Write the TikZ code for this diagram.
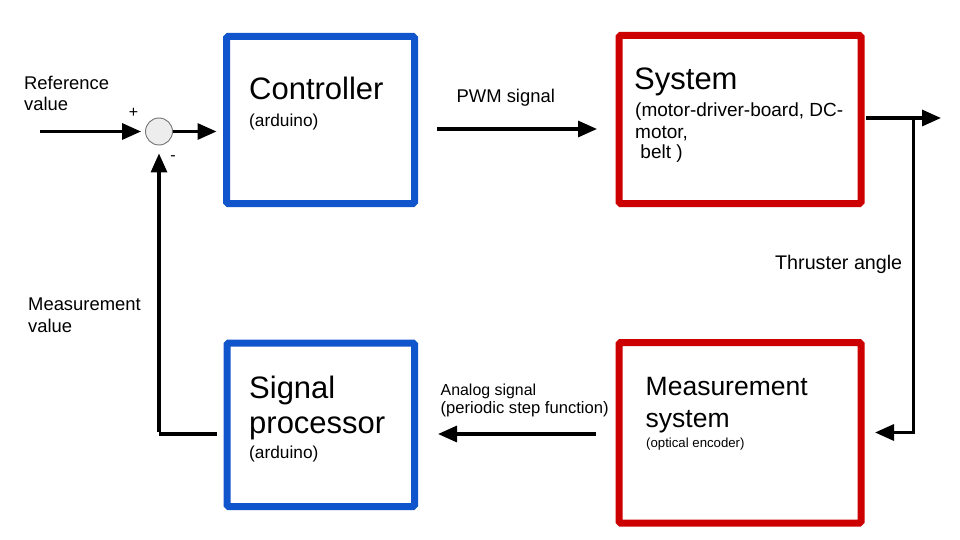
\documentclass[tikz,border=0pt]{standalone}
\usepackage{fontspec}
\setmainfont{Liberation Sans}
\usetikzlibrary{arrows.meta}
\definecolor{gblue}{HTML}{1155CC}
\definecolor{gred}{HTML}{CC0000}
\tikzset{
  blk/.style={draw, line width=7pt, rounded corners=1.5pt, fill=white},
  bluebox/.style={blk, draw=gblue},
  redbox/.style={blk, draw=gred},
  conn/.style={line width=3.2pt, -{Triangle[length=19pt,width=16pt]}},
  plain/.style={line width=3.2pt},
  lbl/.style={anchor=base west, inner sep=0pt, font=\fontsize{18.4}{21}\selectfont},
  big/.style={anchor=base west, inner sep=0pt, font=\fontsize{31}{34}\selectfont},
  mid/.style={anchor=base west, inner sep=0pt, font=\fontsize{26.5}{30}\selectfont},
  small/.style={anchor=base west, inner sep=0pt, font=\fontsize{19}{22}\selectfont},
  sub/.style={anchor=base west, inner sep=0pt, font=\fontsize{17.3}{20}\selectfont},
}
\begin{document}
\begin{tikzpicture}[x=1pt,y=-1pt]
\useasboundingbox (0,0) rectangle (960,540);
% boxes
\draw[bluebox] (226.5,36.5) rectangle (414.5,203.5);
\node[inner sep=0pt, minimum width=188pt, minimum height=167pt] (ctrl) at (320.5,120) {};
\draw[redbox] (619,35.5) rectangle (861,203.5);
\node[inner sep=0pt, minimum width=242pt, minimum height=168pt] (sys) at (740,119.5) {};
\draw[redbox] (619,342.5) rectangle (861,523);
\node[inner sep=0pt, minimum width=242pt, minimum height=180pt] (meas) at (740,432.75) {};
\draw[bluebox] (227,343) rectangle (414.5,506.5);
\node[inner sep=0pt, minimum width=187pt, minimum height=163pt] (sig) at (320.75,424.75) {};
% sum junction
\node[circle, draw=black!55, line width=0.9pt, fill=black!7, minimum size=27pt, inner sep=0pt] (sum) at (159,131.5) {};
% coordinates
\coordinate (in) at (40,131.5);
\coordinate (ctrlin) at (216.5,131.5);
\coordinate (pwmA) at (437,129);
\coordinate (pwmB) at (597,129);
\coordinate (sysout) at (866,118);
\coordinate (outtip) at (941,118);
\coordinate (br) at (913.5,118);
\coordinate (brdown) at (913.5,432.5);
\coordinate (measin) at (875,432.5);
\coordinate (anA) at (596,434);
\coordinate (anB) at (438,434);
\coordinate (sigout) at (217,434);
\coordinate (fbcorner) at (159,434);
% text
\node[lbl] (reft1) at (24,89.5) {Reference};
\node[lbl] (reft2) at (24,111) {value};
\node[inner sep=0pt, font=\fontsize{16}{18}\selectfont] (plus) at (133.5,113) {+};
\node[inner sep=0pt, font=\fontsize{16}{18}\selectfont] (minus) at (173,158) {-};
\node[big] (ctrlt) at (249,99.5) {Controller};
\node[sub] (ctrls) at (249,127) {(arduino)};
\node[lbl] (pwmt) at (456.5,103) {PWM signal};
\node[big] (syst) at (634,90) {System};
\node[small] (sys1) at (635,117) {(motor-driver-board, DC-};
\node[small] (sys2) at (635,138.5) {motor,};
\node[small] (sys3) at (635,159) {\ belt )};
\node[inner sep=0pt, anchor=base west, font=\fontsize{19.7}{22}\selectfont] (thr) at (775,269) {Thruster angle};
\node[lbl] (mv1) at (28,310) {Measurement};
\node[lbl] (mv2) at (28,332.5) {value};
\node[inner sep=0pt, anchor=base west, font=\fontsize{15.9}{18}\selectfont] (an1) at (440.5,395) {Analog signal};
\node[inner sep=0pt, anchor=base west, font=\fontsize{16.6}{18}\selectfont] (an2) at (440.5,413.5) {(periodic step function)};
\node[big] (sigt1) at (249,398) {Signal};
\node[big] (sigt2) at (249,433.5) {processor};
\node[sub] (sigs) at (249,458.5) {(arduino)};
\node[mid] (mst1) at (645.5,395) {Measurement};
\node[mid] (mst2) at (645.5,427) {system};
\node[inner sep=0pt, anchor=base west, font=\fontsize{13.2}{15}\selectfont] (mst3) at (646,447) {(optical encoder)};
% connectors
\draw[conn, shorten >=4pt] (in) -- (sum.west);
\draw[conn] (sum.east) -- (ctrlin);
\draw[conn] (pwmA) -- (pwmB);
\draw[conn] (sysout) -- (outtip);
\draw[plain] (br) -- (brdown);
\draw[conn] ([xshift=1.6pt]brdown) -- (measin);
\draw[conn] (anA) -- (anB);
\draw[plain] (sigout) -- (fbcorner);
\draw[conn, shorten >=8pt] ([yshift=1.6pt]fbcorner) -- (sum.south);
\end{tikzpicture}
\end{document}
